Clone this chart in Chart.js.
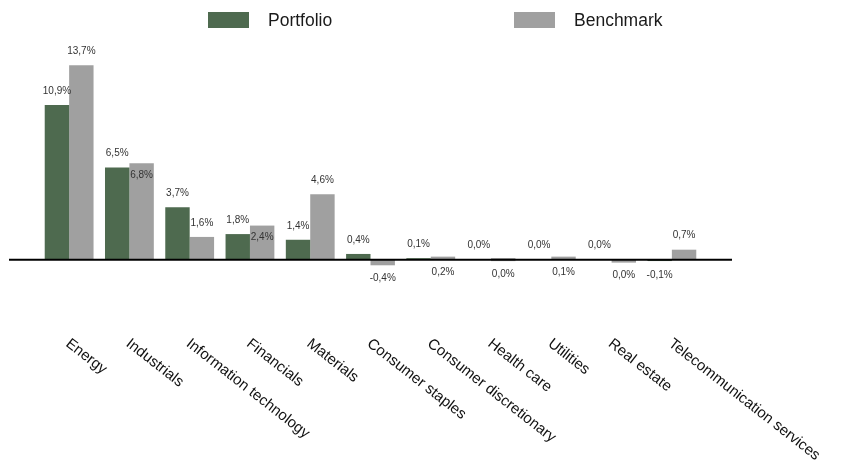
<!DOCTYPE html>
<html>
<head>
<meta charset="utf-8">
<script src="https://cdn.jsdelivr.net/npm/chart.js@4.4.1/dist/chart.umd.min.js"></script>
<style>
    html, body { margin: 0; padding: 0; background: #fff; }
    .wrap { position: relative; width: 841px; height: 472px; }
    .legend-item { position: absolute; top: 12px; height: 16px; display: flex; align-items: center;
        font-family: "Liberation Sans", Arial, sans-serif; font-size: 17.5px; color: #1a1a1a; }
    .legend-color { display: inline-block; width: 41px; height: 16px; margin-right: 19px; }
</style>
</head>
<body>
<div class="wrap">
    <canvas id="sectorChart" width="841" height="472"></canvas>
    <div class="legend-container"></div>
</div>
<script>
const sectors = [
    "Energy", "Industrials", "Information technology", "Financials", "Materials",
    "Consumer staples", "Consumer discretionary", "Health care", "Utilities",
    "Real estate", "Telecommunication services"
];
const portfolio = [10.9, 6.5, 3.7, 1.8, 1.4, 0.4, 0.1, 0.0, 0.0, 0.0, -0.1];
const benchmark = [13.7, 6.8, 1.6, 2.4, 4.6, -0.4, 0.2, 0.0, 0.1, -0.04, 0.7];

const colors = ['#4e6a4f', '#a0a0a0'];
const seriesNames = ['Portfolio', 'Benchmark'];

function fmt(v) {
    let s = (Math.round(v * 10) / 10).toFixed(1);
    if (s === '-0.0') s = '0.0';
    return s.replace('.', ',') + '%';
}

// zero line, wider than the bars
const zeroLine = {
    id: 'zeroLine',
    afterDatasetsDraw(chart) {
        const { ctx, chartArea, scales: { y } } = chart;
        const yy = y.getPixelForValue(0);
        ctx.save();
        ctx.strokeStyle = '#000';
        ctx.lineWidth = 2;
        ctx.beginPath();
        ctx.moveTo(chartArea.left - 30, yy);
        ctx.lineTo(chartArea.right + 30, yy);
        ctx.stroke();
        ctx.restore();
    }
};

// value labels
const valueLabels = {
    id: 'valueLabels',
    afterDraw(chart) {
        const { ctx, scales: { y } } = chart;
        const zero = y.getPixelForValue(0);
        ctx.save();
        ctx.font = '10px "Liberation Sans", Arial, sans-serif';
        ctx.fillStyle = '#333';
        ctx.textAlign = 'center';
        ctx.textBaseline = 'middle';
        chart.data.datasets.forEach((ds, di) => {
            chart.getDatasetMeta(di).data.forEach((bar, i) => {
                const v = ds.data[i];
                const top = Math.min(bar.y, zero);
                const bottom = Math.max(bar.y, zero);
                let ly;
                if (di === 0) {
                    ly = v < 0 ? bottom + 14 : top - 14;
                } else {
                    const p = portfolio[i];
                    if (v < 0.5) ly = bottom + 13;
                    else if (p >= 1 && v > p && v - p < 1) ly = top + 12;
                    else ly = top - 14;
                }
                ctx.fillText(fmt(v), bar.x, ly);
            });
        });
        ctx.restore();
    }
};

// slanted category labels
const slantLabels = {
    id: 'slantLabels',
    afterDraw(chart) {
        const { ctx, scales: { x } } = chart;
        ctx.save();
        ctx.font = '15px "Liberation Sans", Arial, sans-serif';
        ctx.fillStyle = '#111';
        ctx.textAlign = 'left';
        ctx.textBaseline = 'top';
        sectors.forEach((name, i) => {
            ctx.save();
            ctx.translate(x.getPixelForValue(i) + 3, 336);
            ctx.rotate(38 * Math.PI / 180);
            ctx.fillText(name, 0, 0);
            ctx.restore();
        });
        ctx.restore();
    }
};

const ctx = document.getElementById('sectorChart').getContext('2d');
new Chart(ctx, {
    type: 'bar',
    data: {
        labels: sectors,
        datasets: [
            { label: seriesNames[0], data: portfolio, backgroundColor: colors[0] },
            { label: seriesNames[1], data: benchmark, backgroundColor: colors[1], minBarLength: 3 }
        ]
    },
    options: {
        responsive: false,
        animation: false,
        layout: { padding: { left: 39, right: 139, top: 61, bottom: 184 } },
        datasets: { bar: { categoryPercentage: 0.81, barPercentage: 1 } },
        scales: {
            x: { display: false },
            y: { display: false, min: -2, max: 14 }
        },
        plugins: {
            legend: { display: false },
            tooltip: { enabled: false }
        }
    },
    plugins: [zeroLine, valueLabels, slantLabels]
});

// legend items
const legendContainer = document.querySelector('.legend-container');
const legendLeft = [208, 514];
seriesNames.forEach((name, index) => {
    const legendItem = document.createElement('div');
    legendItem.className = 'legend-item';
    legendItem.style.left = legendLeft[index] + 'px';
    legendItem.innerHTML = `
        <span class="legend-color" style="background-color: ${colors[index]}"></span>
        <span class="legend-text">${name}</span>
    `;
    legendContainer.appendChild(legendItem);
});
</script>
</body>
</html>
